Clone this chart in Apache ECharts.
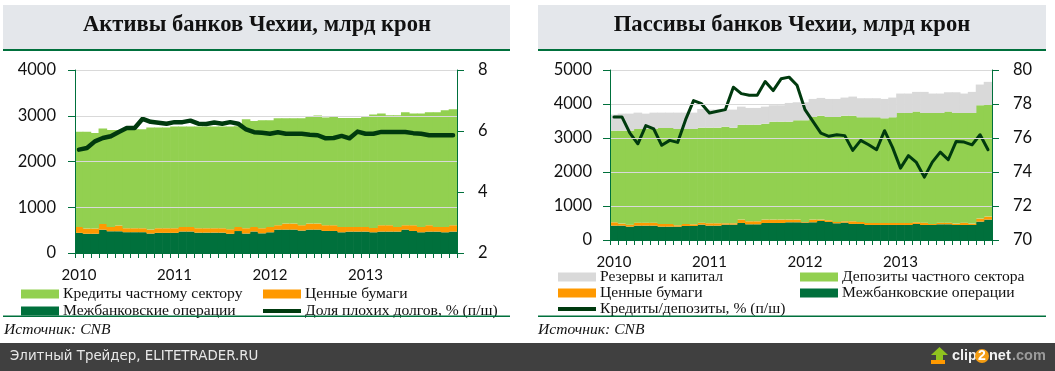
<!DOCTYPE html>
<html><head><meta charset="utf-8">
<style>html,body{margin:0;padding:0;background:#fff}#c{width:1055px;height:371px}</style>
<script src="https://cdn.jsdelivr.net/npm/echarts@6/dist/echarts.min.js"></script>
</head><body><div id="c"></div>
<script>
const years = ['2010','2011','2012','2013'];
const months = ['01','02','03','04','05','06','07','08','09','10','11','12'];
const categories = years.flatMap(y => months.map(m => y + '-' + m));

const assetInterbank = [440,420,420,510,475,475,455,455,455,425,440,440,440,470,470,445,445,445,445,420,480,425,470,430,
  453,512,512,512,490,512,512,482,482,453,468,468,468,453,468,468,468,512,482,453,468,468,453,468];
const assetSecurities = [130,114,114,126,95,125,86,86,86,87,101,101,101,100,100,96,96,96,96,100,90,116,100,111,
  117,95,131,131,117,131,131,125,125,117,102,102,102,95,139,139,102,95,125,117,139,102,117,139];
const assetLoans = [2083,2119,2090,2083,2120,2090,2164,2164,2164,2229,2200,2200,2222,2193,2193,2222,2222,2222,2222,2243,2200,2383,2317,2361,
  2332,2339,2303,2303,2339,2339,2361,2353,2375,2383,2383,2383,2412,2478,2441,2404,2441,2470,2441,2478,2470,2507,2551,2536];
const badLoanShare = [5.39,5.44,5.66,5.77,5.83,5.97,6.10,6.10,6.40,6.30,6.27,6.24,6.29,6.29,6.34,6.24,6.23,6.28,6.24,6.29,6.24,6.05,5.96,5.94,
  5.91,5.96,5.91,5.91,5.91,5.88,5.86,5.76,5.77,5.84,5.76,5.98,5.91,5.91,5.97,5.97,5.97,5.97,5.93,5.91,5.86,5.86,5.86,5.86];

const liabInterbank = [423,423,393,423,423,423,393,393,393,413,413,452,423,423,452,452,501,462,462,501,501,501,521,521,
  511,521,560,531,492,511,472,472,442,442,442,442,442,442,472,442,442,462,462,442,442,442,541,600];
const liabSecurities = [98,59,59,88,88,88,79,79,40,59,49,59,69,69,40,40,99,89,89,99,99,99,79,79,
  20,79,40,49,39,40,79,59,59,59,59,59,59,59,49,69,30,49,49,40,69,40,88,88];
const liabDeposits = [2694,2733,2763,2753,2753,2753,2822,2822,2831,2792,2802,2793,2812,2812,2841,2812,2792,2841,2841,2822,2881,2881,2881,2920,
  2989,3018,3058,3038,3087,3107,3107,3078,3108,3108,3078,3108,3235,3235,3255,3225,3264,3225,3265,3254,3225,3254,3334,3304];
const liabReserves = [472,502,502,482,453,482,452,452,482,482,482,551,531,531,502,531,531,492,492,501,482,482,550,531,
  531,531,521,531,531,531,560,560,560,560,570,580,571,571,580,620,571,571,569,609,571,620,609,659];
const loanDepositRatio = [77.24,77.24,76.29,75.66,76.73,76.53,75.57,75.86,75.74,77.08,78.2,78.02,77.47,77.57,77.67,78.99,78.61,78.52,78.52,79.32,78.79,79.48,79.58,79.1,
  77.67,76.98,76.29,76.1,76.19,76.14,75.27,75.86,75.6,75.31,76.43,75.45,74.23,74.96,74.56,73.7,74.58,75.17,74.72,75.8,75.76,75.6,76.19,75.31];

const titles = ['Активы банков Чехии, млрд крон', 'Пассивы банков Чехии, млрд крон'];
const sourceText = 'Источник: CNB';
const footerText = 'Элитный Трейдер, ELITETRADER.RU';

const GREEN='#00703C', LIGHT='#92D050', ORANGE='#FF9900', GREY='#D9D9D9', DARK='#003A0E';
const SERIF='"Liberation Serif"', SANS='Lato';

const chart = echarts.init(document.getElementById('c'), null, {renderer:'canvas'});

function xAx(i){return {type:'category',gridIndex:i,data:categories,boundaryGap:true,z:6,
  axisLine:{show:true,lineStyle:{color:GREEN,width:1}},
  axisTick:{show:true,interval:0,length:5,lineStyle:{color:GREEN}},
  axisLabel:{interval:11,margin:15,color:'#111',fontFamily:SANS,fontSize:15,formatter:v=>v.slice(0,4)},
  splitLine:{show:false}};}
function yAx(i,min,max,step,pos,grid,m){return {type:'value',gridIndex:i,min,max,interval:step,position:pos,z:6,
  axisLine:{show:true,lineStyle:{color:GREEN,width:1}},
  axisTick:{show:true,length:7,lineStyle:{color:GREEN}},
  axisLabel:{margin:m,color:'#111',fontFamily:SANS,fontSize:16.5,formatter:v=>String(v)},
  splitLine:{show:grid,lineStyle:{color:'#D9D9D9',width:1}}};}
function bar(name,data,color,ax,stack){return {type:'bar',name,data,stack,xAxisIndex:ax,yAxisIndex:ax*2,
  barWidth:8.6,itemStyle:{color},z:2};}
function line(name,data,ax,w){return {type:'line',name,data,xAxisIndex:ax,yAxisIndex:ax*2+1,showSymbol:false,symbol:'none',
  lineStyle:{color:DARK,width:w,cap:'round',join:'round'},itemStyle:{color:DARK},z:5};}
function leg(name,left,top,h){return {data:[{name,icon:'rect'}],left,top,orient:'vertical',itemWidth:38,itemHeight:h||9,padding:0,
  selectedMode:false,textStyle:{fontFamily:SERIF,fontSize:15.6,color:'#111',padding:[0,0,0,-1]}};}
function rect(x,y,w,h,fill,z){return {type:'rect',shape:{x,y,width:w,height:h},style:{fill},z:z||0,silent:true};}
function txt(text,x,y,font,fill,align,z){return {type:'text',x,y,z:z||10,silent:true,
  style:{text,font,fill,textAlign:align||'left',textVerticalAlign:'middle'}};}

chart.setOption({
  animation:false,
  backgroundColor:'#fff',
  grid:[{left:75,top:70,width:382,height:183},{left:610,top:70,width:382,height:170}],
  xAxis:[xAx(0),xAx(1)],
  yAxis:[yAx(0,0,4000,1000,'left',true,19),yAx(0,2,8,2,'right',false,21),
         yAx(1,0,5000,1000,'left',true,18),yAx(1,70,80,2,'right',false,21)],
  legend:[leg('Кредиты частному сектору',21,286),leg('Ценные бумаги',263,286),
          leg('Межбанковские операции',21,303),leg('Доля плохих долгов, % (п/ш)',263,303,4),
          leg('Резервы и капитал',558,269),leg('Депозиты частного сектора',800,269),
          leg('Ценные бумаги',558,285),leg('Межбанковские операции',800,285),
          leg('Кредиты/депозиты, % (п/ш)',558,301,4)],
  series:[
    bar('Межбанковские операции',assetInterbank,GREEN,0,'a'),
    bar('Ценные бумаги',assetSecurities,ORANGE,0,'a'),
    bar('Кредиты частному сектору',assetLoans,LIGHT,0,'a'),
    line('Доля плохих долгов, % (п/ш)',badLoanShare,0,4.5),
    bar('Межбанковские операции',liabInterbank,GREEN,1,'b'),
    bar('Ценные бумаги',liabSecurities,ORANGE,1,'b'),
    bar('Депозиты частного сектора',liabDeposits,LIGHT,1,'b'),
    bar('Резервы и капитал',liabReserves,GREY,1,'b'),
    line('Кредиты/депозиты, % (п/ш)',loanDepositRatio,1,3)
  ],
  graphic:[
    rect(3,5,507,44,'#E4E7EB'),rect(3,49,507,2,GREEN),
    rect(538,5,508,44,'#E4E7EB'),rect(538,49,508,2,GREEN),
    rect(3,315.5,507,1.5,GREEN,20),rect(538,315.5,508,1.5,GREEN,20),
    txt(titles[0],257,25.5,'bold 22.6px '+SERIF,'#111','center'),
    txt(titles[1],792,25.5,'bold 22.6px '+SERIF,'#111','center'),
    txt(sourceText,4,330,'italic 15.6px '+SERIF,'#111'),
    txt(sourceText,538,330,'italic 15.6px '+SERIF,'#111'),
    rect(0,343,1055,28,'#404040'),
    txt(footerText,10,357,'13.4px "DejaVu Sans"','#E8E8E8'),
    {type:'polygon',silent:true,z:11,shape:{points:[[939.5,347],[948,355],[943,355],[943,360],[936,360],[936,355],[931,355]]},style:{fill:'#8FC31F'}},
    rect(931,360,14,4,ORANGE,11),
    txt('clip',952,356,'bold 14.5px "Liberation Sans"','#F2F2F2'),
    {type:'circle',silent:true,z:11,shape:{cx:982,cy:356,r:7},style:{fill:'#F39C12'}},
    txt('2',982,356,'bold 14px "Liberation Sans"','#fff','center',12),
    txt('net',989,356,'bold 14.5px "Liberation Sans"','#F2F2F2'),
    txt('.com',1012,356,'bold 14.5px "Liberation Sans"','#9A9A9A')
  ]
});
</script></body></html>
